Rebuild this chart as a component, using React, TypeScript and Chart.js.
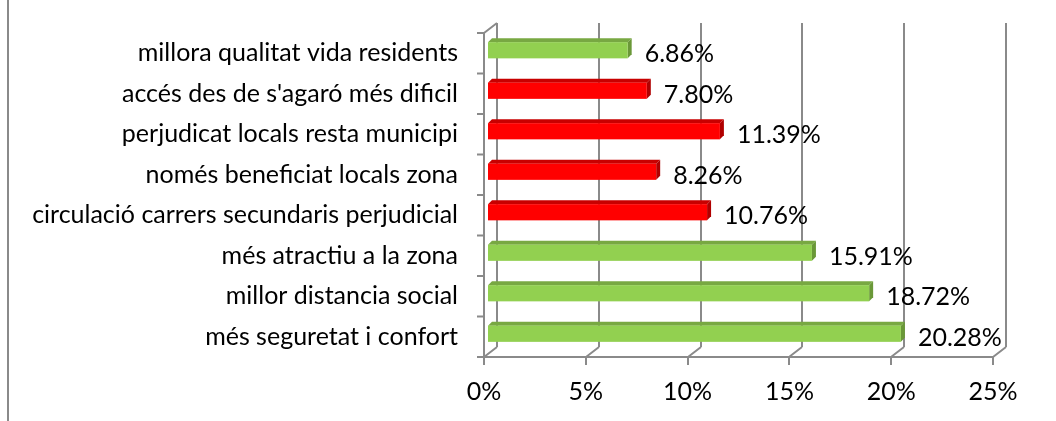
import { useEffect, useRef } from "react";
import { Chart, registerables } from "chart.js";

Chart.register(...registerables);

const categories = [
  "millora qualitat vida residents",
  "accés des de s'agaró més dificil",
  "perjudicat locals resta municipi",
  "només beneficiat locals zona",
  "circulació carrers secundaris perjudicial",
  "més atractiu a la zona",
  "millor distancia social",
  "més seguretat i confort",
];
const values = [6.86, 7.8, 11.39, 8.26, 10.76, 15.91, 18.72, 20.28];
const sentiment = ["pos", "neg", "neg", "neg", "neg", "pos", "pos", "pos"];
const xTicks = [0, 5, 10, 15, 20, 25];

const FONT = "Lato";
const FONT_SIZE = 25;
const GRID = "#8a8a8a";
const DX = 13;
const DY = -10;
const BOX = 4; // bar front offset
const BOY = -3;
const BD = 4; // bar depth

const palette: Record<string, { front: string; top: string; side: string }> = {
  pos: { front: "#92D050", top: "#78A842", side: "#6A9838" },
  neg: { front: "#FF0000", top: "#C80000", side: "#B00000" },
};

const threeD = {
  id: "threeD",
  beforeDatasetsDraw(chart: any) {
    const { ctx, chartArea: a, scales } = chart;
    const xs = scales.x;
    const ys = scales.y;
    ctx.save();
    ctx.strokeStyle = GRID;
    ctx.lineWidth = 2;
    ctx.beginPath();
    ctx.moveTo(8, 0);
    ctx.lineTo(8, chart.height);
    ctx.stroke();

    ctx.beginPath();
    xTicks.forEach((v) => {
      const px = Math.round(xs.getPixelForValue(v));
      ctx.moveTo(px + DX, a.top + DY);
      ctx.lineTo(px + DX, a.bottom + DY);
      ctx.moveTo(px, a.bottom);
      ctx.lineTo(px + DX, a.bottom + DY);
      ctx.moveTo(px, a.bottom);
      ctx.lineTo(px, a.bottom + 8);
    });
    ctx.moveTo(a.left, a.bottom);
    ctx.lineTo(a.right, a.bottom);
    ctx.moveTo(a.left, a.top);
    ctx.lineTo(a.left, a.bottom);
    ctx.moveTo(a.left, a.top);
    ctx.lineTo(a.left + DX, a.top + DY);
    const n = categories.length;
    for (let i = 0; i <= n; i++) {
      const y = i < n ? ys.getPixelForValue(i) - (a.bottom - a.top) / n / 2 : a.bottom;
      ctx.moveTo(a.left - 7, y);
      ctx.lineTo(a.left, y);
    }
    ctx.stroke();

    const meta = chart.getDatasetMeta(0);
    meta.data.forEach((el: any, i: number) => {
      const p = palette[sentiment[i]];
      const x0 = el.base + BOX;
      const x1 = el.x + BOX;
      const t = el.y - el.height / 2 + BOY;
      const b = el.y + el.height / 2 + BOY;
      ctx.fillStyle = p.top;
      ctx.beginPath();
      ctx.moveTo(x0, t);
      ctx.lineTo(x0 + BD, t - BD);
      ctx.lineTo(x1 + BD, t - BD);
      ctx.lineTo(x1, t);
      ctx.closePath();
      ctx.fill();
      ctx.fillStyle = p.side;
      ctx.beginPath();
      ctx.moveTo(x1, t);
      ctx.lineTo(x1 + BD, t - BD);
      ctx.lineTo(x1 + BD, b - BD);
      ctx.lineTo(x1, b);
      ctx.closePath();
      ctx.fill();
      ctx.fillStyle = p.front;
      ctx.fillRect(x0, t, x1 - x0, b - t);
      ctx.fillStyle = "#000";
      ctx.font = `${FONT_SIZE}px ${FONT}`;
      ctx.textAlign = "left";
      ctx.textBaseline = "middle";
      ctx.fillText(values[i].toFixed(2) + "%", x1 + 17, el.y + 1);
    });
    ctx.restore();
    return false;
  },
};

export default function App() {
  const ref = useRef<HTMLCanvasElement>(null);
  useEffect(() => {
    if (!ref.current) return;
    const chart = new Chart(ref.current, {
      type: "bar",
      data: {
        labels: categories,
        datasets: [
          {
            data: values,
            backgroundColor: sentiment.map((s) => palette[s].front),
            categoryPercentage: 1,
            barPercentage: 0.4,
          },
        ],
      },
      options: {
        indexAxis: "y",
        responsive: false,
        animation: false,
        events: [],
        layout: { padding: { left: 0, right: 63, top: 33, bottom: 0 } },
        plugins: { legend: { display: false }, tooltip: { enabled: false } },
        scales: {
          x: {
            type: "linear",
            min: 0,
            max: 25,
            afterBuildTicks: (s: any) => {
              s.ticks = xTicks.map((v) => ({ value: v }));
            },
            afterFit: (s: any) => {
              s.height = 64;
              s.paddingLeft = 0;
              s.paddingRight = 0;
            },
            grid: { display: false, drawTicks: false },
            border: { display: false },
            ticks: {
              padding: 20,
              color: "#000",
              font: { family: FONT, size: FONT_SIZE },
              callback: (v: any) => v + "%",
            },
          },
          y: {
            type: "category",
            afterFit: (s: any) => {
              s.width = 484;
              s.paddingTop = 0;
              s.paddingBottom = 0;
            },
            grid: { display: false, drawTicks: false },
            border: { display: false },
            ticks: {
              padding: 26,
              color: "#000",
              font: { family: FONT, size: FONT_SIZE },
            },
          },
        },
      },
      plugins: [threeD],
    } as any);
    return () => chart.destroy();
  }, []);
  return (
    <div style={{ position: "fixed", left: 0, top: 0, width: 1056, height: 421 }}>
      <canvas ref={ref} width={1056} height={421} />
    </div>
  );
}
